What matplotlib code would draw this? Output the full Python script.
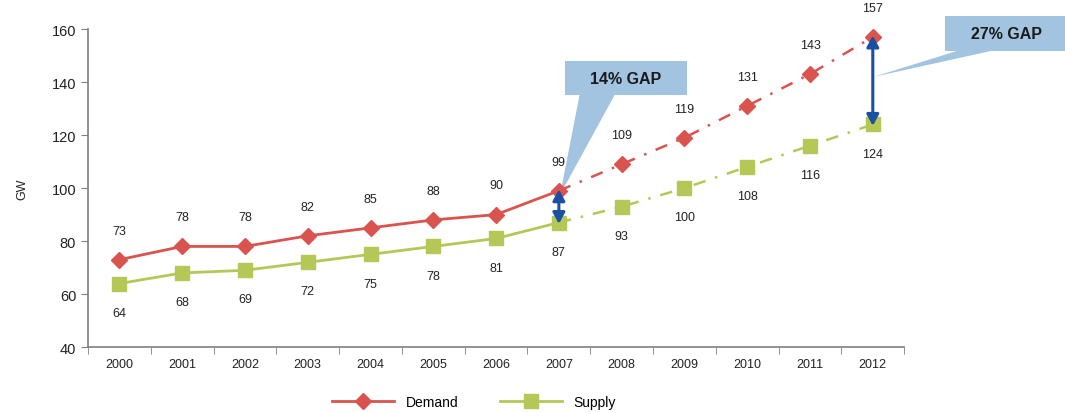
import matplotlib
matplotlib.use("Agg")
import matplotlib.pyplot as plt
from matplotlib.patches import Polygon

years = ["2000", "2001", "2002", "2003", "2004", "2005", "2006",
         "2007", "2008", "2009", "2010", "2011", "2012"]
demand = [73, 78, 78, 82, 85, 88, 90, 99, 109, 119, 131, 143, 157]
supply = [64, 68, 69, 72, 75, 78, 81, 87, 93, 100, 108, 116, 124]
split = 7  # last actual year; later years are projections
gap_labels = ["14% GAP", "27% GAP"]

RED = "#d9534f"
GREEN = "#b5c857"
BLUE = "#1a4fa3"
CALLOUT = "#a3c4e0"
GREY = "#7f7f7f"

plt.rcParams["font.family"] = ["Liberation Sans", "DejaVu Sans"]

fig = plt.figure(figsize=(10.65, 4.14), dpi=100)
ax = fig.add_axes([0.0826, 0.159, 0.7664, 0.7685])

x = list(range(len(years)))
dash = (0, (5, 4, 1, 4))

# actual (solid) and projected (dashed) segments
ax.plot(x[:split + 1], demand[:split + 1], color=RED, lw=2, zorder=3)
ax.plot(x[split:], demand[split:], color=RED, lw=1.8, ls=dash, zorder=3)
ax.plot(x[:split + 1], supply[:split + 1], color=GREEN, lw=2, zorder=3)
ax.plot(x[split:], supply[split:], color=GREEN, lw=1.8, ls=dash, zorder=3)
ax.plot(x, demand, ls="none", marker="D", ms=8.5, color=RED, zorder=4)
ax.plot(x, supply, ls="none", marker="s", ms=9.5, color=GREEN, zorder=4)

for xi, d, s in zip(x, demand, supply):
    ax.annotate(f"{d}", (xi, d), xytext=(0, 21), textcoords="offset points",
                ha="center", va="center", fontsize=9, color="#222222")
    ax.annotate(f"{s}", (xi, s), xytext=(0, -21), textcoords="offset points",
                ha="center", va="center", fontsize=9, color="#222222")

# gap arrows between demand and supply
for i in (split, len(years) - 1):
    ax.annotate("", xy=(i, demand[i] + 0.5), xytext=(i, supply[i] - 0.5),
                arrowprops=dict(arrowstyle="<|-|>,head_length=0.55,head_width=0.3",
                                color=BLUE, lw=2.2,
                                mutation_scale=12, shrinkA=0, shrinkB=0),
                zorder=5)

# callouts (box + pointer wedge)
callouts = [
    dict(box=(7.10, 9.04, 135.1, 147.9), base=(7.33, 7.89),
         tip=(7.02, 97.5), text=gap_labels[0]),
    dict(box=(13.15, 15.1, 151.7, 164.9), base=(13.35, 13.9),
         tip=(12.02, 142.0), text=gap_labels[1]),
]
for c in callouts:
    x0, x1, y0, y1 = c["box"]
    b0, b1 = c["base"]
    ax.add_patch(Polygon([(x0, y0), (x1, y0), (x1, y1), (x0, y1)],
                         closed=True, fc=CALLOUT, ec="none", clip_on=False, zorder=2))
    ax.add_patch(Polygon([(b0, y0 + 0.1), (b1, y0 + 0.1), c["tip"]],
                         closed=True, fc=CALLOUT, ec="none", clip_on=False, zorder=2))
    ax.text((x0 + x1) / 2, (y0 + y1) / 2, c["text"], ha="center", va="center",
            fontsize=11.5, fontweight="bold", color="#1a1a1a",
            family=["Liberation Sans Narrow", "Liberation Sans", "DejaVu Sans"],
            clip_on=False, zorder=6)

ax.set_xlim(-0.5, len(years) - 0.5)
ax.set_ylim(40, 160)
ax.set_yticks(range(40, 161, 20))
ax.set_xticks(x)
ax.set_xticklabels(years, fontsize=9, color="#222222")
ax.set_xticks([i - 0.5 for i in range(len(years) + 1)], minor=True)
ax.tick_params(axis="x", which="major", length=0, pad=8)
ax.tick_params(axis="x", which="minor", length=5, color=GREY, direction="out")
ax.tick_params(axis="y", labelsize=10.5, length=5, color=GREY, labelcolor="#222222")
for s in ("top", "right"):
    ax.spines[s].set_visible(False)
for s in ("left", "bottom"):
    ax.spines[s].set_color(GREY)
    ax.spines[s].set_linewidth(1.2)
ax.set_ylabel("GW", fontsize=9, color="#222222", labelpad=17)

h1, = ax.plot([], [], color=RED, lw=2, marker="D", ms=8.5)
h2, = ax.plot([], [], color=GREEN, lw=2, marker="s", ms=9.5)
fig.legend([h1, h2], ["Demand", "Supply"], loc="center", ncol=2,
           bbox_to_anchor=(0.445, 0.027), frameon=False, fontsize=10,
           handlelength=4.5, columnspacing=3)

fig.savefig("out.png", dpi=100)
